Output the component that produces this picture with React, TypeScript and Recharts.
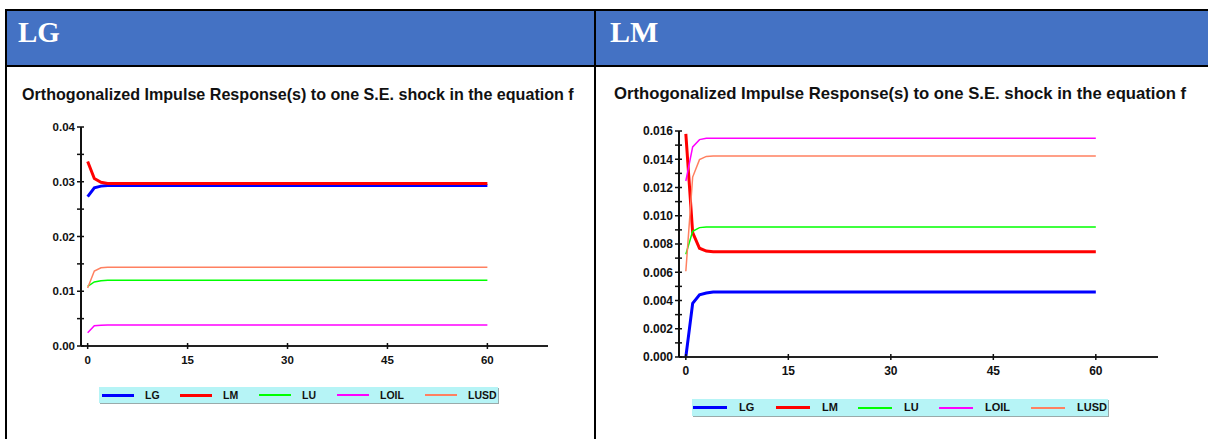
import { LineChart, Line, XAxis, YAxis, Legend } from 'recharts'

// horizons (periods after the shock)
const HORIZONS = [0, 1, 2, 3, 4, 5, 6, 8, 10, 15, 20, 25, 30, 35, 40, 45, 50, 55, 60]

const SERIES = ['LG', 'LM', 'LU', 'LOIL', 'LUSD']
const COLORS = ['#0000ff', '#ff0000', '#00ff00', '#ff00ff', '#ff8060']
const WIDTHS = [3, 3, 1.5, 1.5, 1.5]

// panel "LG"
const LG_LG = [0.0273, 0.0289, 0.0292, 0.0293, 0.0293, 0.0293, 0.0293, 0.0293, 0.0293, 0.0293, 0.0293, 0.0293, 0.0293, 0.0293, 0.0293, 0.0293, 0.0293, 0.0293, 0.0293]
const LG_LM = [0.0337, 0.0306, 0.0299, 0.0297, 0.0297, 0.0297, 0.0297, 0.0297, 0.0297, 0.0297, 0.0297, 0.0297, 0.0297, 0.0297, 0.0297, 0.0297, 0.0297, 0.0297, 0.0297]
const LG_LU = [0.0109, 0.0117, 0.0119, 0.012, 0.012, 0.012, 0.012, 0.012, 0.012, 0.012, 0.012, 0.012, 0.012, 0.012, 0.012, 0.012, 0.012, 0.012, 0.012]
const LG_LOIL = [0.0024, 0.0037, 0.0038, 0.00385, 0.00385, 0.00385, 0.00385, 0.00385, 0.00385, 0.00385, 0.00385, 0.00385, 0.00385, 0.00385, 0.00385, 0.00385, 0.00385, 0.00385, 0.00385]
const LG_LUSD = [0.0106, 0.0137, 0.0143, 0.0144, 0.0144, 0.0144, 0.0144, 0.0144, 0.0144, 0.0144, 0.0144, 0.0144, 0.0144, 0.0144, 0.0144, 0.0144, 0.0144, 0.0144, 0.0144]

// panel "LM"
const LM_LG = [0, 0.0038, 0.0044, 0.00453, 0.0046, 0.0046, 0.0046, 0.0046, 0.0046, 0.0046, 0.0046, 0.0046, 0.0046, 0.0046, 0.0046, 0.0046, 0.0046, 0.0046, 0.0046]
const LM_LM = [0.0158, 0.0088, 0.0077, 0.0075, 0.00746, 0.00746, 0.00746, 0.00746, 0.00746, 0.00746, 0.00746, 0.00746, 0.00746, 0.00746, 0.00746, 0.00746, 0.00746, 0.00746, 0.00746]
const LM_LU = [0.00727, 0.0089, 0.00916, 0.0092, 0.0092, 0.0092, 0.0092, 0.0092, 0.0092, 0.0092, 0.0092, 0.0092, 0.0092, 0.0092, 0.0092, 0.0092, 0.0092, 0.0092, 0.0092]
const LM_LOIL = [0.01246, 0.01487, 0.01539, 0.01548, 0.01548, 0.01548, 0.01548, 0.01548, 0.01548, 0.01548, 0.01548, 0.01548, 0.01548, 0.01548, 0.01548, 0.01548, 0.01548, 0.01548, 0.01548]
const LM_LUSD = [0.00607, 0.01274, 0.01397, 0.0142, 0.01423, 0.01423, 0.01423, 0.01423, 0.01423, 0.01423, 0.01423, 0.01423, 0.01423, 0.01423, 0.01423, 0.01423, 0.01423, 0.01423, 0.01423]

const X_TICKS = [0, 15, 30, 45, 60]
const LG_Y_TICKS = [0, 0.005, 0.01, 0.015, 0.02, 0.025, 0.03, 0.035, 0.04]
const LG_Y_LABELS = ['0.00', '', '0.01', '', '0.02', '', '0.03', '', '0.04']
const LM_Y_TICKS = [0, 0.001, 0.002, 0.003, 0.004, 0.005, 0.006, 0.007, 0.008, 0.009, 0.01, 0.011, 0.012, 0.013, 0.014, 0.015, 0.016]
const LM_Y_LABELS = ['0.000', '', '0.002', '', '0.004', '', '0.006', '', '0.008', '', '0.010', '', '0.012', '', '0.014', '', '0.016']

const TITLE = 'Orthogonalized Impulse Response(s) to one S.E. shock in the equation f'

const FONT = '"Liberation Sans", Arial, sans-serif'

function buildRows(cols: number[][]) {
  return HORIZONS.map((h, i) => {
    const row: Record<string, number> = { h }
    SERIES.forEach((s, k) => {
      row[s] = cols[k][i]
    })
    return row
  })
}

const lgRows = buildRows([LG_LG, LG_LM, LG_LU, LG_LOIL, LG_LUSD])
const lmRows = buildRows([LM_LG, LM_LM, LM_LU, LM_LOIL, LM_LUSD])

function makeYTick(ticks: number[], labels: string[], fontSize: number) {
  return (props: any) => {
    const { x, y, payload } = props
    const i = ticks.findIndex(t => Math.abs(t - payload.value) < 1e-9)
    const label = i >= 0 ? labels[i] : ''
    return (
      <g>
        <line x1={x - 4} x2={x + 3} y1={y} y2={y} stroke="#111" strokeWidth={1.5} />
        {label && (
          <text x={x - 6} y={y} dy="0.36em" textAnchor="end" fontSize={fontSize} fontWeight="bold" fontFamily={FONT} fill="#111">
            {label}
          </text>
        )}
      </g>
    )
  }
}

function makeXTick(fontSize: number) {
  return (props: any) => {
    const { x, y, payload } = props
    return (
      <g>
        <line x1={x} x2={x} y1={y - 3} y2={y + 3} stroke="#111" strokeWidth={1.5} />
        <text x={x} y={y + 18} textAnchor="middle" fontSize={fontSize} fontWeight="bold" fontFamily={FONT} fill="#111">
          {payload.value}
        </text>
      </g>
    )
  }
}

// items are laid out in legend order, each with its own slot width
function makeLegend(fontSize: number, lineLen: number, labelGap: number, slots: number[], padLeft: number) {
  return (props: any) => {
    const items = [...(props.payload || [])].sort(
      (a: any, b: any) => SERIES.indexOf(a.value) - SERIES.indexOf(b.value)
    )
    return (
      <div
        style={{
          display: 'flex',
          alignItems: 'center',
          height: '100%',
          boxSizing: 'border-box',
          paddingLeft: padLeft,
          background: '#b6f4f6',
          boxShadow: '1px 1px 0 #9aa',
        }}
      >
        {items.map((entry: any, i: number) => {
          const k = SERIES.indexOf(entry.value)
          return (
            <div key={entry.value} style={{ display: 'flex', alignItems: 'center', width: slots[i], flex: 'none' }}>
              <div style={{ width: lineLen, height: WIDTHS[k] >= 3 ? 3 : 2, background: COLORS[k], flex: 'none' }} />
              <span
                style={{
                  marginLeft: labelGap,
                  fontFamily: FONT,
                  fontWeight: 'bold',
                  fontSize,
                  color: '#111',
                  lineHeight: 1,
                  whiteSpace: 'nowrap',
                }}
              >
                {entry.value}
              </span>
            </div>
          )
        })}
      </div>
    )
  }
}

type PanelProps = {
  rows: Record<string, number>[]
  width: number
  margin: { top: number; right: number; bottom: number; left: number }
  yTicks: number[]
  yLabels: string[]
  yMax: number
  tickFont: number
  legendBox: { left: number; top: number; width: number; height: number }
  legendFont: number
  legendLine: number
  legendLabelGap: number
  legendSlots: number[]
  legendPad: number
}

function Panel(p: PanelProps) {
  return (
    <LineChart width={p.width} height={439} data={p.rows} margin={p.margin}>
      <XAxis
        dataKey="h"
        type="number"
        domain={[-1, 69.1]}
        ticks={X_TICKS}
        interval={0}
        allowDataOverflow
        axisLine={{ stroke: '#222', strokeWidth: 2 }}
        tickLine={false}
        tickSize={0}
        tickMargin={0}
        height={30}
        tick={makeXTick(p.tickFont)}
      />
      <YAxis
        type="number"
        domain={[0, p.yMax]}
        ticks={p.yTicks}
        interval={0}
        allowDataOverflow
        axisLine={{ stroke: '#111', strokeWidth: 2 }}
        tickLine={false}
        tickSize={0}
        tickMargin={0}
        width={60}
        tick={makeYTick(p.yTicks, p.yLabels, p.tickFont)}
      />
      <Legend
        layout="horizontal"
        verticalAlign="middle"
        align="center"
        wrapperStyle={{ ...p.legendBox }}
        content={makeLegend(p.legendFont, p.legendLine, p.legendLabelGap, p.legendSlots, p.legendPad)}
      />
      {SERIES.map((s, k) => (
        <Line
          key={s}
          dataKey={s}
          name={s}
          type="linear"
          stroke={COLORS[k]}
          strokeWidth={WIDTHS[k]}
          dot={false}
          activeDot={false}
          isAnimationActive={false}
        />
      ))}
    </LineChart>
  )
}

export default function App() {
  return (
    <div style={{ position: 'absolute', left: 0, top: 0, width: 1208, height: 439, background: '#fff', overflow: 'hidden' }}>
      {/* header row */}
      <div style={{ position: 'absolute', left: 6, top: 11, width: 588, height: 54, background: '#4472c4' }} />
      <div style={{ position: 'absolute', left: 596, top: 11, width: 612, height: 54, background: '#4472c4' }} />
      <div style={{ position: 'absolute', left: 18, top: 16, color: '#fff', fontFamily: '"Liberation Serif", serif', fontWeight: 'bold', fontSize: 29, lineHeight: '32px' }}>LG</div>
      <div style={{ position: 'absolute', left: 610, top: 16, color: '#fff', fontFamily: '"Liberation Serif", serif', fontWeight: 'bold', fontSize: 30, lineHeight: '32px' }}>LM</div>

      {/* table borders */}
      <div style={{ position: 'absolute', left: 5, top: 9, width: 1203, height: 2, background: '#000' }} />
      <div style={{ position: 'absolute', left: 5, top: 65, width: 1203, height: 1.5, background: '#000' }} />
      <div style={{ position: 'absolute', left: 5, top: 9, width: 2, height: 430, background: '#000' }} />
      <div style={{ position: 'absolute', left: 594, top: 9, width: 2, height: 430, background: '#000' }} />

      {/* titles */}
      <div style={{ position: 'absolute', left: 22, top: 85, whiteSpace: 'nowrap', fontFamily: FONT, fontWeight: 'bold', fontSize: 16.1, lineHeight: '18px', color: '#111' }}>{TITLE}</div>
      <div style={{ position: 'absolute', left: 614, top: 85, whiteSpace: 'nowrap', fontFamily: FONT, fontWeight: 'bold', fontSize: 16.7, lineHeight: '18px', color: '#111' }}>{TITLE}</div>

      <div style={{ position: 'absolute', left: 0, top: 0 }}>
        <Panel
          rows={lgRows}
          width={594}
          margin={{ top: 127, right: 46, bottom: 63, left: 21 }}
          yTicks={LG_Y_TICKS}
          yLabels={LG_Y_LABELS}
          yMax={0.04}
          tickFont={11.5}
          legendBox={{ left: 99, top: 387, width: 399, height: 16 }}
          legendFont={10.5}
          legendLine={32}
          legendLabelGap={11}
          legendSlots={[78, 79, 78, 88, 73]}
          legendPad={3}
        />
      </div>
      <div style={{ position: 'absolute', left: 596, top: 0 }}>
        <Panel
          rows={lmRows}
          width={612}
          margin={{ top: 131, right: 50, bottom: 52, left: 23 }}
          yTicks={LM_Y_TICKS}
          yLabels={LM_Y_LABELS}
          yMax={0.016}
          tickFont={12}
          legendBox={{ left: 96, top: 399, width: 416, height: 17 }}
          legendFont={11}
          legendLine={34}
          legendLabelGap={12}
          legendSlots={[83, 82, 81, 92, 76]}
          legendPad={1}
        />
      </div>
    </div>
  )
}
